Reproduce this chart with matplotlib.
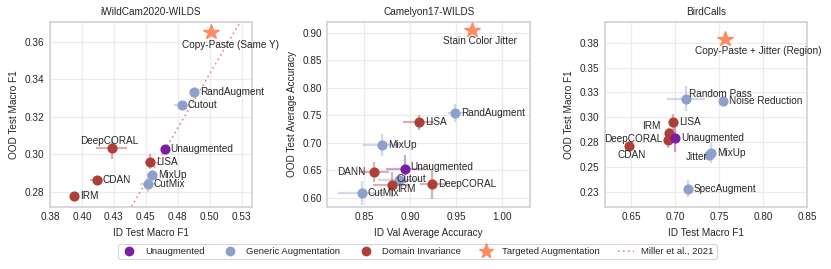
import matplotlib
matplotlib.use("Agg")
import matplotlib.pyplot as plt
from matplotlib.lines import Line2D

# ---- data ----
# iWildCam2020-WILDS
wild_names = ["IRM", "CDAN", "DeepCORAL", "LISA", "CutMix", "MixUp", "Cutout", "RandAugment",
              "Unaugmented", "Copy-Paste (Same Y)"]
wild_group = ["dom", "dom", "dom", "dom", "gen", "gen", "gen", "gen", "unaug", "target"]
wild_x = [0.394, 0.4116, 0.4233, 0.4534, 0.4513, 0.4547, 0.478, 0.488, 0.4646, 0.501]
wild_y = [0.2777, 0.2862, 0.303, 0.296, 0.2839, 0.2889, 0.326, 0.333, 0.3027, 0.3654]
wild_xerr = [0.003, 0.005, 0.012, 0.004, 0.006, 0.004, 0.006, 0.003, 0.002, 0.0]
wild_yerr = [0.001, 0.001, 0.0055, 0.004, 0.004, 0.002, 0.002, 0.001, 0.001, 0.0]

# Camelyon17-WILDS
cam_names = ["CutMix", "Cutout", "IRM", "DeepCORAL", "DANN", "MixUp", "LISA", "RandAugment",
             "Unaugmented", "Stain Color Jitter"]
cam_group = ["gen", "gen", "dom", "dom", "dom", "gen", "dom", "gen", "unaug", "target"]
cam_x = [0.8475, 0.8876, 0.880, 0.9234, 0.8608, 0.8692, 0.9093, 0.9491, 0.8938, 0.9665]
cam_y = [0.609, 0.6324, 0.624, 0.6246, 0.6464, 0.6953, 0.737, 0.7538, 0.6524, 0.9047]
cam_xerr = [0.026, 0.023, 0.02, 0.013, 0.016, 0.02, 0.017, 0.008, 0.02, 0.0]
cam_yerr = [0.022, 0.005, 0.022, 0.027, 0.018, 0.02, 0.013, 0.016, 0.025, 0.0]

# BirdCalls
bird_names = ["CDAN", "DeepCORAL", "IRM", "LISA", "SpecAugment", "Jitter", "MixUp", "Random Pass",
              "Noise Reduction", "Unaugmented", "Copy-Paste + Jitter (Region)"]
bird_group = ["dom", "dom", "dom", "dom", "gen", "gen", "gen", "gen", "gen", "unaug", "target"]
bird_x = [0.6474, 0.6923, 0.6931, 0.6973, 0.7143, 0.7381, 0.7404, 0.7124, 0.7543, 0.7002, 0.7566]
bird_y = [0.2709, 0.2769, 0.2836, 0.295, 0.2281, 0.2615, 0.2636, 0.3188, 0.316, 0.2789, 0.379]
bird_xerr = [0.002, 0.002, 0.002, 0.002, 0.002, 0.002, 0.003, 0.022, 0.002, 0.002, 0.0]
bird_yerr = [0.004, 0.008, 0.006, 0.008, 0.009, 0.005, 0.01, 0.0125, 0.003, 0.014, 0.0]

# Miller et al., 2021 line (iWildCam only)
miller_slope = 1.16
miller_intercept = -0.237

group_labels = {"unaug": "Unaugmented", "gen": "Generic Augmentation",
                "dom": "Domain Invariance", "target": "Targeted Augmentation"}

# ---- style ----
colors = {"unaug": "#7b1fa2", "gen": "#8da0cb", "dom": "#ad3f38", "target": "#fc8d62"}
miller_color = "#e8898c"
grid_c = "#ebebeb"
spine_c = "#d5d5d5"
text_c = "#262626"
fs = 7.2

plt.rcParams["font.family"] = ["Liberation Sans", "DejaVu Sans"]
plt.rcParams["font.size"] = fs
plt.rcParams["text.color"] = text_c
plt.rcParams["axes.labelcolor"] = text_c
plt.rcParams["xtick.color"] = text_c
plt.rcParams["ytick.color"] = text_c

# label offsets in pixels (dx, dy, ha)
wild_off = {"Copy-Paste (Same Y)": (19, -13, "center"), "DeepCORAL": (-3, 7, "center")}
cam_off = {"Stain Color Jitter": (8, -11, "center"), "DANN": (-9, 0, "right"),
           "Cutout": (-2, 1, "left"), "IRM": (5, -4, "left"), "Unaugmented": (6, 2, "left")}
bird_off = {"Copy-Paste + Jitter (Region)": (33, -12, "center"), "Random Pass": (3, 5, "left"),
            "IRM": (-8, 7, "right"), "DeepCORAL": (-6, 1, "right"), "CDAN": (3, -9, "center"),
            "Jitter": (-1, -2, "right")}


def draw_panel(ax, title, names, groups, xs, ys, xerr, yerr, offsets):
    for n, g, x, y, ex, ey in zip(names, groups, xs, ys, xerr, yerr):
        c = colors[g]
        if g == "target":
            ax.plot(x, y, marker="*", ms=11.5, color=c, mec=c, ls="none", zorder=5)
        else:
            ax.errorbar(x, y, xerr=ex, yerr=ey, fmt="none", ecolor=c, alpha=0.4,
                        elinewidth=1.6, capsize=0, zorder=2)
            ax.plot(x, y, marker="o", ms=6.3, color=c, ls="none", zorder=4)
        dx, dy, ha = offsets.get(n, (6, 0, "left"))
        ax.annotate(n, (x, y), xytext=(dx, dy), textcoords="offset pixels",
                    ha=ha, va="center", fontsize=fs, color=text_c, zorder=6,
                    annotation_clip=False)
    ax.set_title(title, fontsize=fs, pad=5)
    ax.grid(True, color=grid_c, lw=0.9)
    ax.set_axisbelow(True)
    for s in ax.spines.values():
        s.set_color(spine_c)
        s.set_linewidth(1.3)
    ax.tick_params(length=0, pad=4, labelsize=fs)


fig = plt.figure(figsize=(8.31, 2.69), dpi=100)
ax1 = fig.add_axes([0.0602, 0.2323, 0.2430, 0.686])
ax2 = fig.add_axes([0.3939, 0.2323, 0.2439, 0.686])
ax3 = fig.add_axes([0.7280, 0.2323, 0.2434, 0.686])

draw_panel(ax1, "iWildCam2020-WILDS", wild_names, wild_group, wild_x, wild_y,
           wild_xerr, wild_yerr, wild_off)
ax1.axline((0.45, miller_slope * 0.45 + miller_intercept), slope=miller_slope,
           color=miller_color, ls=(0, (1, 2)), lw=1.2, zorder=1)
ax1.set_xlim(0.375, 0.533)
ax1.set_ylim(0.272, 0.3706)
ax1.set_xticks([0.375, 0.40, 0.425, 0.45, 0.475, 0.50, 0.525])
ax1.set_xticklabels(["0.38", "0.40", "0.43", "0.45", "0.48", "0.50", "0.53"])
ax1.set_yticks([0.28, 0.30, 0.32, 0.34, 0.36])
ax1.set_yticklabels(["0.28", "0.30", "0.32", "0.34", "0.36"])
ax1.set_xlabel("ID Test Macro F1", fontsize=fs)
ax1.set_ylabel("OOD Test Macro F1", fontsize=fs)

draw_panel(ax2, "Camelyon17-WILDS", cam_names, cam_group, cam_x, cam_y,
           cam_xerr, cam_yerr, cam_off)
ax2.set_xlim(0.810, 1.030)
ax2.set_ylim(0.584, 0.920)
ax2.set_xticks([0.85, 0.90, 0.95, 1.00])
ax2.set_xticklabels(["0.85", "0.90", "0.95", "1.00"])
ax2.set_yticks([0.60, 0.65, 0.70, 0.75, 0.80, 0.85, 0.90])
ax2.set_yticklabels(["0.60", "0.65", "0.70", "0.75", "0.80", "0.85", "0.90"])
ax2.set_xlabel("ID Val Average Accuracy", fontsize=fs)
ax2.set_ylabel("OOD Test Average Accuracy", fontsize=fs)

draw_panel(ax3, "BirdCalls", bird_names, bird_group, bird_x, bird_y,
           bird_xerr, bird_yerr, bird_off)
ax3.set_xlim(0.6205, 0.85)
ax3.set_ylim(0.210, 0.396)
ax3.set_xticks([0.65, 0.70, 0.75, 0.80, 0.85])
ax3.set_xticklabels(["0.65", "0.70", "0.75", "0.80", "0.85"])
ax3.set_yticks([0.225, 0.25, 0.275, 0.30, 0.325, 0.35, 0.375])
ax3.set_yticklabels(["0.23", "0.25", "0.28", "0.30", "0.33", "0.35", "0.38"])
ax3.set_xlabel("ID Test Macro F1", fontsize=fs)
ax3.set_ylabel("OOD Test Macro F1", fontsize=fs)

handles = [
    Line2D([], [], marker="o", ls="none", ms=6, color=colors["unaug"]),
    Line2D([], [], marker="o", ls="none", ms=6, color=colors["gen"]),
    Line2D([], [], marker="o", ls="none", ms=6, color=colors["dom"]),
    Line2D([], [], marker="*", ls="none", ms=11, color=colors["target"]),
    Line2D([], [], color=miller_color, ls=(0, (1, 2)), lw=1.2),
]
labels = [group_labels["unaug"], group_labels["gen"], group_labels["dom"],
          group_labels["target"], "Miller et al., 2021"]
leg = fig.legend(handles, labels, loc="center", bbox_to_anchor=(0.5025, 0.065), ncol=5,
                 fontsize=6.8, frameon=True, handlelength=1.7, handletextpad=0.8,
                 columnspacing=1.9, borderpad=0.35, fancybox=True)
leg.get_frame().set_edgecolor("#cccccc")
leg.get_frame().set_linewidth(0.8)

fig.savefig("out.png", dpi=100)
